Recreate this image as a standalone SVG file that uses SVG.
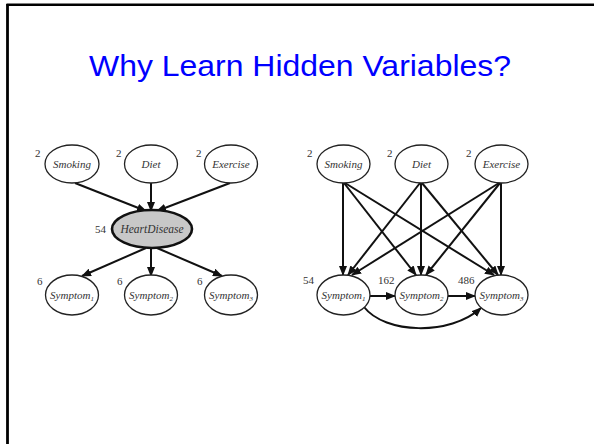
<svg xmlns="http://www.w3.org/2000/svg" width="594" height="444" viewBox="0 0 594 444">
<style>
.frame{stroke:#000;fill:none}
.title{font-family:"Liberation Sans",Arial,sans-serif;font-size:30px;fill:#0000ff}
.node ellipse{fill:#fff;stroke:#222;stroke-width:1.3}
.node.hidden ellipse{fill:#c8c8c8;stroke:#111;stroke-width:2.6}
.lbl{font-family:"Liberation Serif","Times New Roman",serif;font-style:italic;font-size:11px;fill:#333;text-anchor:middle}
.num{font-family:"Liberation Serif","Times New Roman",serif;font-size:11px;fill:#333}
.sub{font-size:7px}
.edges path{stroke:#111;stroke-width:2;fill:none;marker-end:url(#arr)}
</style>
<defs>
<marker id="arr" markerUnits="userSpaceOnUse" markerWidth="10" markerHeight="8" refX="9" refY="4" orient="auto">
<path d="M0,0 L10,4 L0,8 Z" fill="#111"/>
</marker>
</defs>
<rect width="594" height="444" fill="#fff"/>
<line class="frame" x1="6.5" y1="4.7" x2="594" y2="4.7" stroke-width="2.5"/>
<line class="frame" x1="7.5" y1="4" x2="7.5" y2="444" stroke-width="2.8"/>
<text class="title" x="300" y="76" text-anchor="middle" textLength="422" lengthAdjust="spacingAndGlyphs">Why Learn Hidden Variables?</text>

<g id="edges" class="edges">
<path d="M75,183 L146,211"/>
<path d="M151,183 L151,211"/>
<path d="M230,183 L157,211"/>
<path d="M146,248 L82,276"/>
<path d="M151,248 L151,276"/>
<path d="M157,248 L222,276"/>

<path d="M343,183 L343,275"/>
<path d="M344,183 L416,275"/>
<path d="M345,183 L494,275"/>
<path d="M420,183 L348,275"/>
<path d="M421,183 L421,275"/>
<path d="M422,183 L498,275"/>
<path d="M499,183 L352,275"/>
<path d="M500,183 L426,275"/>
<path d="M501,183 L501,275"/>

<path d="M370,296 L395,296"/>
<path d="M448,296 L475,296"/>
<path d="M364,307 C385,334 450,336 481,308"/>
</g>

<g id="L_Smoking" class="node"><ellipse cx="72" cy="164" rx="27" ry="19"/><text class="lbl" x="72" y="168">Smoking</text><text class="num" x="35" y="157">2</text></g>
<g id="L_Diet" class="node"><ellipse cx="151" cy="164" rx="26.5" ry="19"/><text class="lbl" x="151" y="168">Diet</text><text class="num" x="116" y="157">2</text></g>
<g id="L_Exercise" class="node"><ellipse cx="231" cy="164" rx="26.5" ry="19"/><text class="lbl" x="231" y="168">Exercise</text><text class="num" x="196" y="157">2</text></g>
<g id="L_HeartDisease" class="node hidden"><ellipse cx="152" cy="229" rx="40" ry="19"/><text class="lbl" x="152" y="233" style="font-size:11.5px">HeartDisease</text><text class="num" x="95" y="233">54</text></g>
<g id="L_Symptom1" class="node"><ellipse cx="72" cy="295" rx="26.5" ry="20"/><text class="lbl" x="72" y="299">Symptom<tspan class="sub" dy="2">1</tspan></text><text class="num" x="37" y="285">6</text></g>
<g id="L_Symptom2" class="node"><ellipse cx="151" cy="295" rx="26.5" ry="20"/><text class="lbl" x="151" y="299">Symptom<tspan class="sub" dy="2">2</tspan></text><text class="num" x="117" y="285">6</text></g>
<g id="L_Symptom3" class="node"><ellipse cx="231" cy="295" rx="26.5" ry="20"/><text class="lbl" x="231" y="299">Symptom<tspan class="sub" dy="2">3</tspan></text><text class="num" x="197" y="285">6</text></g>

<g id="R_Smoking" class="node"><ellipse cx="343.5" cy="164" rx="26.5" ry="19"/><text class="lbl" x="343.5" y="168">Smoking</text><text class="num" x="307" y="157">2</text></g>
<g id="R_Diet" class="node"><ellipse cx="421.5" cy="164" rx="26.5" ry="19"/><text class="lbl" x="421.5" y="168">Diet</text><text class="num" x="387" y="157">2</text></g>
<g id="R_Exercise" class="node"><ellipse cx="501.5" cy="164" rx="26.5" ry="19"/><text class="lbl" x="501.5" y="168">Exercise</text><text class="num" x="466" y="157">2</text></g>
<g id="R_Symptom1" class="node"><ellipse cx="343.5" cy="295" rx="26.5" ry="20"/><text class="lbl" x="343.5" y="299">Symptom<tspan class="sub" dy="2">1</tspan></text><text class="num" x="303" y="284">54</text></g>
<g id="R_Symptom2" class="node"><ellipse cx="421.5" cy="295" rx="26.5" ry="20"/><text class="lbl" x="421.5" y="299">Symptom<tspan class="sub" dy="2">2</tspan></text><text class="num" x="378" y="284">162</text></g>
<g id="R_Symptom3" class="node"><ellipse cx="501.5" cy="295" rx="26.5" ry="20"/><text class="lbl" x="501.5" y="299">Symptom<tspan class="sub" dy="2">3</tspan></text><text class="num" x="458" y="284">486</text></g>
</svg>
